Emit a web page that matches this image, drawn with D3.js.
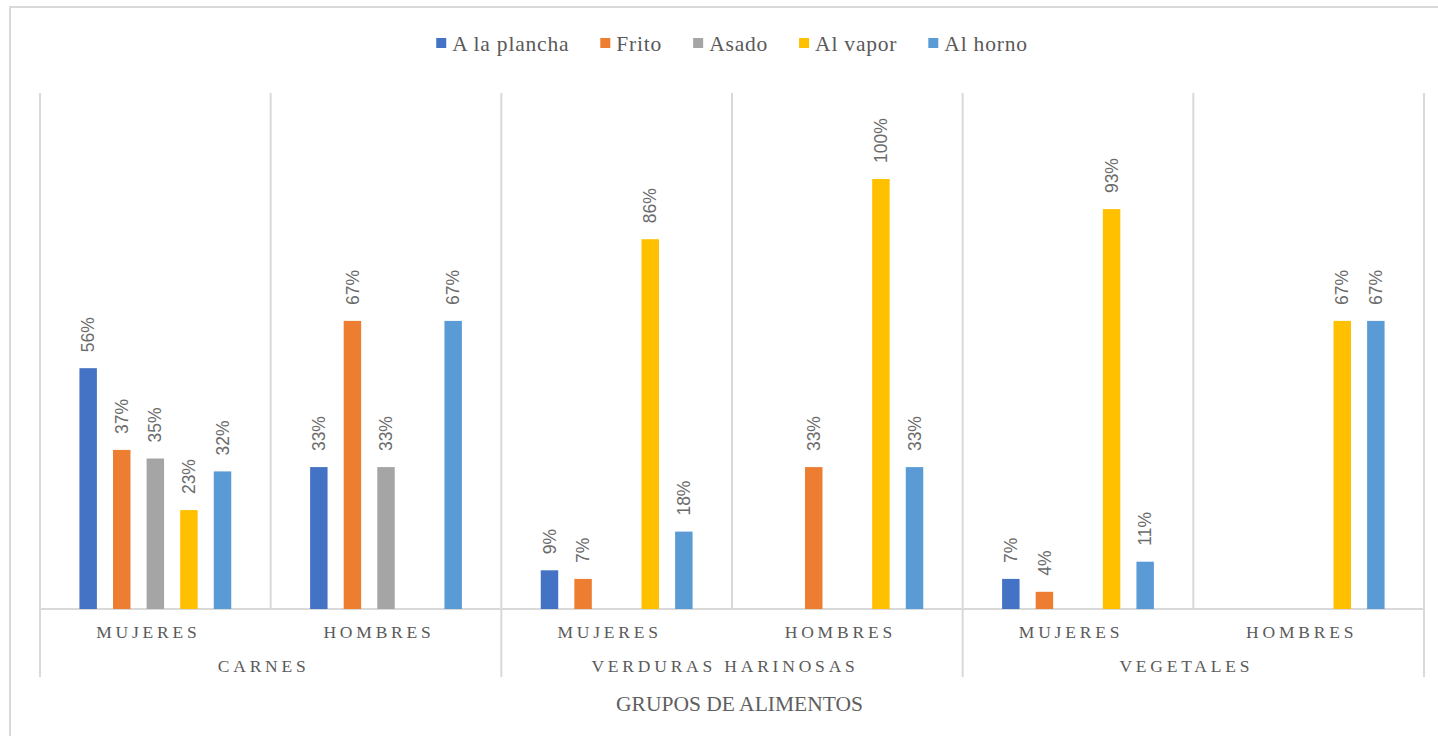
<!DOCTYPE html>
<html>
<head>
<meta charset="utf-8">
<script src="https://cdn.jsdelivr.net/npm/d3@7"></script>
<style>
  html, body { margin: 0; padding: 0; background: #fff; }
  svg { display: block; }
</style>
</head>
<body>
<svg id="chart" width="1438" height="736"></svg>
<script>
// Food groups, sex subcategories and cooking methods
const grupos = ["CARNES", "VERDURAS HARINOSAS", "VEGETALES"];
const sexos = ["MUJERES", "HOMBRES"];
const metodos = ["A la plancha", "Frito", "Asado", "Al vapor", "Al horno"];
const colores = ["#4472C4", "#ED7D31", "#A5A5A5", "#FFC000", "#5B9BD5"];

// Share per method, one value per (group, sex) column; null = no bar
const aLaPlancha = [0.56, 0.33, 0.09, null, 0.07, null];
const frito      = [0.37, 0.67, 0.07, 0.33, 0.04, null];
const asado      = [0.35, 0.33, null, null, null, null];
const alVapor    = [0.23, null, 0.86, 1.00, 0.93, 0.67];
const alHorno    = [0.32, 0.67, 0.18, 0.33, 0.11, 0.67];

const yTicks = [0, 0.2, 0.4, 0.6, 0.8, 1.0, 1.2];
const axisTitle = "GRUPOS DE ALIMENTOS";

const series = [aLaPlancha, frito, asado, alVapor, alHorno];

// Columns: every group split into its sexes
const columnas = [];
grupos.forEach((g, gi) => sexos.forEach((s, si) => columnas.push({ grupo: g, sexo: s, key: gi * sexos.length + si })));

const svg = d3.select("#chart");
const plotLeft = 40, plotRight = 1424, plotTop = 93, plotBase = 609;

// Outer frame (only top and left edges fall inside the view)
svg.append("path")
  .attr("d", "M10,736V7H1438")
  .attr("fill", "none").attr("stroke", "#d9d9d9").attr("stroke-width", 2);

const x0 = d3.scaleBand().domain(columnas.map(d => d.key)).range([plotLeft, plotRight]).padding(0);
const x1 = d3.scaleBand().domain(metodos).range([0, x0.bandwidth()])
  .paddingInner(0.48).paddingOuter(1.174);
const y = d3.scaleLinear().domain([0, d3.max(yTicks)]).range([plotBase, plotTop]);

// Vertical separators between columns; group boundaries extend through labels
const boundaries = d3.range(columnas.length + 1).map(i => plotLeft + i * x0.step());
svg.append("g").selectAll("line").data(boundaries).join("line")
  .attr("x1", d => d).attr("x2", d => d)
  .attr("y1", plotTop)
  .attr("y2", (d, i) => i % sexos.length === 0 ? 677 : plotBase)
  .attr("stroke", "#d9d9d9").attr("stroke-width", 2);

// Baseline
svg.append("line").attr("x1", plotLeft).attr("x2", plotRight).attr("y1", plotBase).attr("y2", plotBase)
  .attr("stroke", "#d9d9d9").attr("stroke-width", 2);

// Bars
const barData = [];
series.forEach((vals, mi) => vals.forEach((v, ci) => {
  if (v != null) barData.push({ metodo: metodos[mi], color: colores[mi], col: ci, value: v });
}));

svg.append("g").selectAll("rect").data(barData).join("rect")
  .attr("x", d => x0(d.col) + x1(d.metodo))
  .attr("width", x1.bandwidth())
  .attr("y", d => y(d.value))
  .attr("height", d => plotBase - y(d.value))
  .attr("fill", d => d.color);

// Value labels, rotated
svg.append("g").selectAll("text").data(barData).join("text")
  .attr("transform", d => {
    const cx = x0(d.col) + x1(d.metodo) + x1.bandwidth() / 2;
    return `translate(${cx},${y(d.value) - 16}) rotate(-90)`;
  })
  .attr("dy", "0.35em")
  .attr("text-anchor", "start")
  .attr("font-family", "'Liberation Sans', Arial, sans-serif")
  .attr("font-size", 17.5)
  .attr("fill", "#6b6b6b")
  .text(d => d3.format(".0%")(d.value));

// Sex labels
svg.append("g").selectAll("text").data(columnas).join("text")
  .attr("x", d => x0(d.key) + x0.bandwidth() / 2 - 7)
  .attr("y", 638)
  .attr("text-anchor", "middle")
  .attr("font-family", "'Liberation Serif', 'Times New Roman', serif")
  .attr("font-size", 17.5)
  .attr("letter-spacing", "3.8px")
  .attr("fill", "#5a5a5a")
  .text(d => d.sexo);

// Group labels
svg.append("g").selectAll("text").data(grupos).join("text")
  .attr("x", (d, i) => plotLeft + (i * sexos.length + sexos.length / 2) * x0.step() - 7)
  .attr("y", 672)
  .attr("text-anchor", "middle")
  .attr("font-family", "'Liberation Serif', 'Times New Roman', serif")
  .attr("font-size", 17.5)
  .attr("letter-spacing", "3.8px")
  .attr("fill", "#5a5a5a")
  .text(d => d);

// Axis title
svg.append("text")
  .attr("x", (plotLeft + plotRight) / 2 + 7.5)
  .attr("y", 711)
  .attr("text-anchor", "middle")
  .attr("font-family", "'Liberation Serif', 'Times New Roman', serif")
  .attr("font-size", 21.5)
  .attr("fill", "#5f5f5f")
  .text(axisTitle);

// Legend
const legend = svg.append("g");
const items = legend.selectAll("g").data(metodos).join("g");
items.append("rect").attr("width", 10).attr("height", 10).attr("y", 38)
  .attr("fill", (d, i) => colores[i]);
items.append("text")
  .attr("x", 16).attr("y", 51)
  .attr("font-family", "'Liberation Serif', 'Times New Roman', serif")
  .attr("font-size", 21.5)
  .attr("letter-spacing", "0.8px")
  .attr("fill", "#595959")
  .text(d => d);
const gap = 31;
const widths = [];
items.each(function () { widths.push(16 + d3.select(this).select("text").node().getComputedTextLength()); });
const total = d3.sum(widths) + gap * (widths.length - 1);
let cur = (plotLeft + plotRight) / 2 - total / 2;
items.attr("transform", (d, i) => { const t = `translate(${cur},0)`; cur += widths[i] + gap; return t; });
</script>
</body>
</html>
